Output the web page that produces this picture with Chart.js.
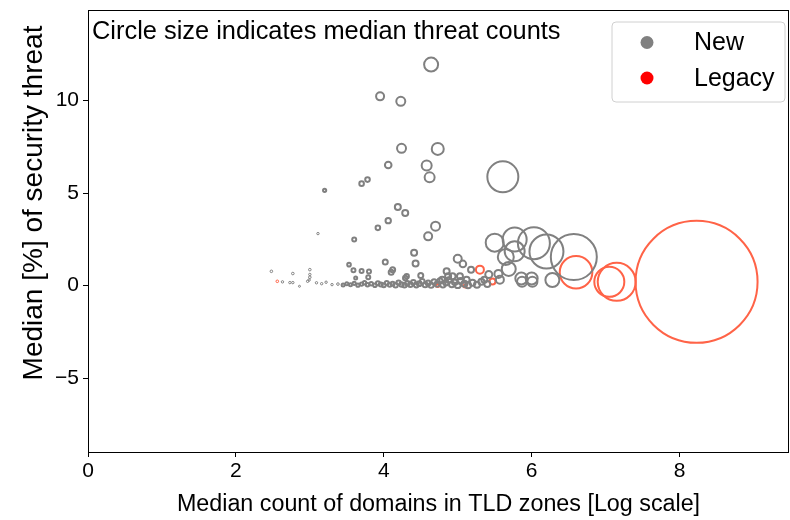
<!DOCTYPE html>
<html>
<head>
<meta charset="utf-8">
<script src="https://cdn.jsdelivr.net/npm/chart.js@4.4.1/dist/chart.umd.min.js"></script>
<style>
  html, body { margin: 0; padding: 0; background: #fff; }
  #wrap { width: 790px; height: 520px; }
</style>
</head>
<body>
<div id="wrap"><canvas id="bubbleChart" width="790" height="520"></canvas></div>
<script>
// tick labels
const xTicks = [0, 2, 4, 6, 8];
const yTicks = [-5, 0, 5, 10];

// New TLDs: x = log domain count, y = median threat %, r = circle size (px)
const newX = [
  4.64, 3.95, 4.23, 4.24, 4.73, 4.06, 4.58, 4.62, 3.70, 3.78, 3.20, 4.19, 4.29, 4.06, 3.92, 4.70, 4.60, 3.11, 3.60,
  5.61, 5.50, 5.77, 6.03, 5.77, 5.65, 6.20, 6.57, 5.69, 6.28, 5.86, 6.00, 5.87, 6.01, 5.00, 5.07,
  3.59, 3.70, 3.80, 3.53, 4.02, 4.12, 4.10, 3.79, 3.62, 4.41, 4.43, 4.50, 4.31, 4.29, 4.85, 4.79, 4.87, 4.93, 5.03, 5.12,
  5.18, 5.42, 5.55, 5.57, 5.36,
  2.48, 2.77, 3.00, 3.00, 2.63, 2.73, 2.77, 2.86, 2.97, 2.99, 3.09, 3.16, 3.22, 3.00,
  3.30, 3.38, 3.45, 3.50, 3.55, 3.60, 3.65, 3.70, 3.74, 3.78, 3.83, 3.88, 3.92, 3.96, 4.00, 4.04, 4.08, 4.12,
  4.16, 4.20, 4.24, 4.28, 4.32, 4.36, 4.40, 4.44, 4.48, 4.52, 4.56, 4.60, 4.64, 4.68, 4.72, 4.76, 4.80, 4.84,
  4.88, 4.92, 4.96, 5.00, 5.04, 5.09, 5.14, 5.20, 5.26, 5.32, 5.40
];
const newY = [
  11.95, 10.23, 9.96, 7.42, 7.39, 6.52, 6.49, 5.85, 5.51, 5.73, 5.15, 4.25, 3.93, 3.51, 3.12, 3.21, 2.66, 2.81, 2.49,
  5.88, 2.32, 2.49, 2.29, 1.85, 1.55, 1.84, 1.54, 0.90, 0.30, 0.38, 0.38, 0.20, 0.20, 1.45, 1.17,
  0.83, 0.79, 0.76, 1.13, 1.28, 0.86, 0.72, 0.45, 0.41, 1.77, 1.19, 0.54, 0.50, 0.41, 0.77, 0.32, 0.50, 0.50, 0.50, 0.32,
  0.86, 0.60, 0.63, 0.32, 0.32,
  0.77, 0.65, 0.86, 0.45, 0.20, 0.16, 0.16, -0.04, 0.23, 0.30, 0.15, 0.10, 0.18, 0.60,
  0.05, 0.08, 0.03, 0.10, 0.05, 0.12, 0.02, 0.08, 0.15, 0.04, 0.10, 0.02, 0.12, 0.06, 0.02, 0.14, 0.05, 0.10,
  0.02, 0.16, 0.06, 0.02, 0.12, 0.05, 0.18, 0.03, 0.10, 0.22, 0.04, 0.14, 0.02, 0.20, 0.08, 0.26, 0.04, 0.15,
  0.30, 0.06, 0.18, 0.02, 0.25, 0.10, 0.02, 0.15, 0.05, 0.20, 0.08
];
const newR = [
  7, 4, 4.5, 4.5, 6, 3.3, 5, 5, 2.3, 2.3, 1.6, 3, 3, 2.7, 2.3, 4.5, 4, 1.2, 2,
  15.5, 9, 12, 16, 10, 8, 17, 23, 7, 7, 6, 6, 5, 5, 4, 3.3,
  2, 2, 2, 1.8, 2.5, 2.5, 2.5, 2, 1.5, 3, 3, 2.5, 2.2, 2.2, 3, 3, 3, 3, 3, 3,
  3, 3.5, 4, 4, 3,
  1.3, 1.3, 1.3, 1.3, 1.2, 1.2, 1.2, 1, 1.2, 1.2, 1.2, 1.2, 1.2, 1.2,
  1.2, 1.3, 1.5, 1.5, 1.5, 1.6, 1.6, 1.7, 1.7, 1.8, 1.8, 1.8, 2, 2, 2, 2, 2, 2,
  2.2, 2.2, 2.2, 2.2, 2.3, 2.3, 2.3, 2.4, 2.4, 2.4, 2.5, 2.5, 2.5, 2.6, 2.6, 2.6, 2.7, 2.7,
  2.8, 2.8, 2.8, 2.9, 3, 3, 3, 3, 3, 3, 3
];

// Legacy TLDs
const legacyX = [8.23, 7.15, 7.05, 6.60, 5.30, 5.47, 2.56, 4.73, 5.10];
const legacyY = [0.20, 0.20, 0.20, 0.72, 0.86, 0.22, 0.23, 0.00, -0.02];
const legacyR = [61, 19, 15, 16.3, 4, 3, 1.3, 1.5, 1.5];

const toPoints = (xs, ys, rs) => xs.map((x, i) => ({ x: x, y: ys[i], r: rs[i] }));

const FONT = "'Liberation Sans', Arial, sans-serif";

// don't let the big bubble shrink the plot area
Chart.BubbleController.prototype.getMaxOverflow = function () { return 0; };

// frame, note text, y title and legend box
const decor = {
  id: 'decor',
  afterDraw(chart) {
    const { ctx, chartArea: a } = chart;
    ctx.save();
    ctx.strokeStyle = '#000';
    ctx.lineWidth = 1;
    ctx.strokeRect(a.left + 0.5, a.top + 0.5, a.right - a.left - 1, a.bottom - a.top);

    ctx.fillStyle = '#000';
    ctx.font = '25.4px ' + FONT;
    ctx.textBaseline = 'alphabetic';
    ctx.textAlign = 'left';
    ctx.fillText('Circle size indicates median threat counts', 92, 39);

    // y axis title
    ctx.save();
    ctx.translate(34, 203);
    ctx.rotate(-Math.PI / 2);
    ctx.textAlign = 'center';
    ctx.textBaseline = 'middle';
    ctx.font = '28px ' + FONT;
    ctx.fillText('Median [%] of security threat', 0, 0);
    ctx.restore();

    // legend
    const lx = 612, ly = 22, lw = 173, lh = 80, rad = 4;
    ctx.beginPath();
    ctx.moveTo(lx + rad, ly);
    ctx.arcTo(lx + lw, ly, lx + lw, ly + lh, rad);
    ctx.arcTo(lx + lw, ly + lh, lx, ly + lh, rad);
    ctx.arcTo(lx, ly + lh, lx, ly, rad);
    ctx.arcTo(lx, ly, lx + lw, ly, rad);
    ctx.closePath();
    ctx.fillStyle = 'rgba(255,255,255,0.8)';
    ctx.fill();
    ctx.strokeStyle = '#d0d0d0';
    ctx.stroke();

    const items = [['New', '#808080', 42.5], ['Legacy', '#ff0000', 78]];
    items.forEach(([label, col, cy]) => {
      ctx.beginPath();
      ctx.arc(647, cy, 6.5, 0, Math.PI * 2);
      ctx.fillStyle = col;
      ctx.fill();
      ctx.fillStyle = '#000';
      ctx.font = '25px ' + FONT;
      ctx.textAlign = 'left';
      ctx.textBaseline = 'middle';
      ctx.fillText(label, 694, cy + 1);
    });
    ctx.restore();
  }
};

const bw = (c) => (c.raw && c.raw.r < 1.5 ? 1 : 2);

new Chart(document.getElementById('bubbleChart').getContext('2d'), {
  type: 'bubble',
  data: {
    datasets: [
      {
        label: 'New',
        data: toPoints(newX, newY, newR),
        backgroundColor: 'rgba(0,0,0,0)',
        borderColor: '#808080',
        borderWidth: bw
      },
      {
        label: 'Legacy',
        data: toPoints(legacyX, legacyY, legacyR),
        backgroundColor: 'rgba(0,0,0,0)',
        borderColor: '#ff6347',
        borderWidth: bw
      }
    ]
  },
  options: {
    responsive: false,
    animation: false,
    events: [],
    layout: { padding: { top: 10, right: 1, left: 0, bottom: 0 } },
    plugins: {
      legend: { display: false },
      tooltip: { enabled: false }
    },
    scales: {
      x: {
        type: 'linear',
        min: 0,
        max: 9.48,
        afterFit: (s) => { s.height = 68; s.paddingLeft = 0; s.paddingRight = 0; },
        afterBuildTicks: (s) => { s.ticks = xTicks.map(v => ({ value: v })); },
        grid: { drawOnChartArea: false, drawTicks: true, tickLength: 5, tickColor: '#000' },
        border: { display: false },
        ticks: { color: '#000', font: { size: 21, family: FONT }, padding: 2, maxRotation: 0 },
        title: {
          display: true,
          text: 'Median count of domains in TLD zones [Log scale]',
          color: '#000',
          font: { size: 23.3, family: FONT },
          padding: { top: 0, bottom: 1 }
        }
      },
      y: {
        type: 'linear',
        min: -9,
        max: 14.9,
        afterFit: (s) => { s.width = 88; s.paddingTop = 0; s.paddingBottom = 0; },
        afterBuildTicks: (s) => { s.ticks = yTicks.map(v => ({ value: v })); },
        grid: { drawOnChartArea: false, drawTicks: true, tickLength: 5, tickColor: '#000' },
        border: { display: false },
        ticks: {
          color: '#000',
          font: { size: 21, family: FONT },
          padding: 4,
          callback: (v) => (v < 0 ? '\u2212' + Math.abs(v) : String(v))
        }
      }
    }
  },
  plugins: [decor]
});
</script>
</body>
</html>
